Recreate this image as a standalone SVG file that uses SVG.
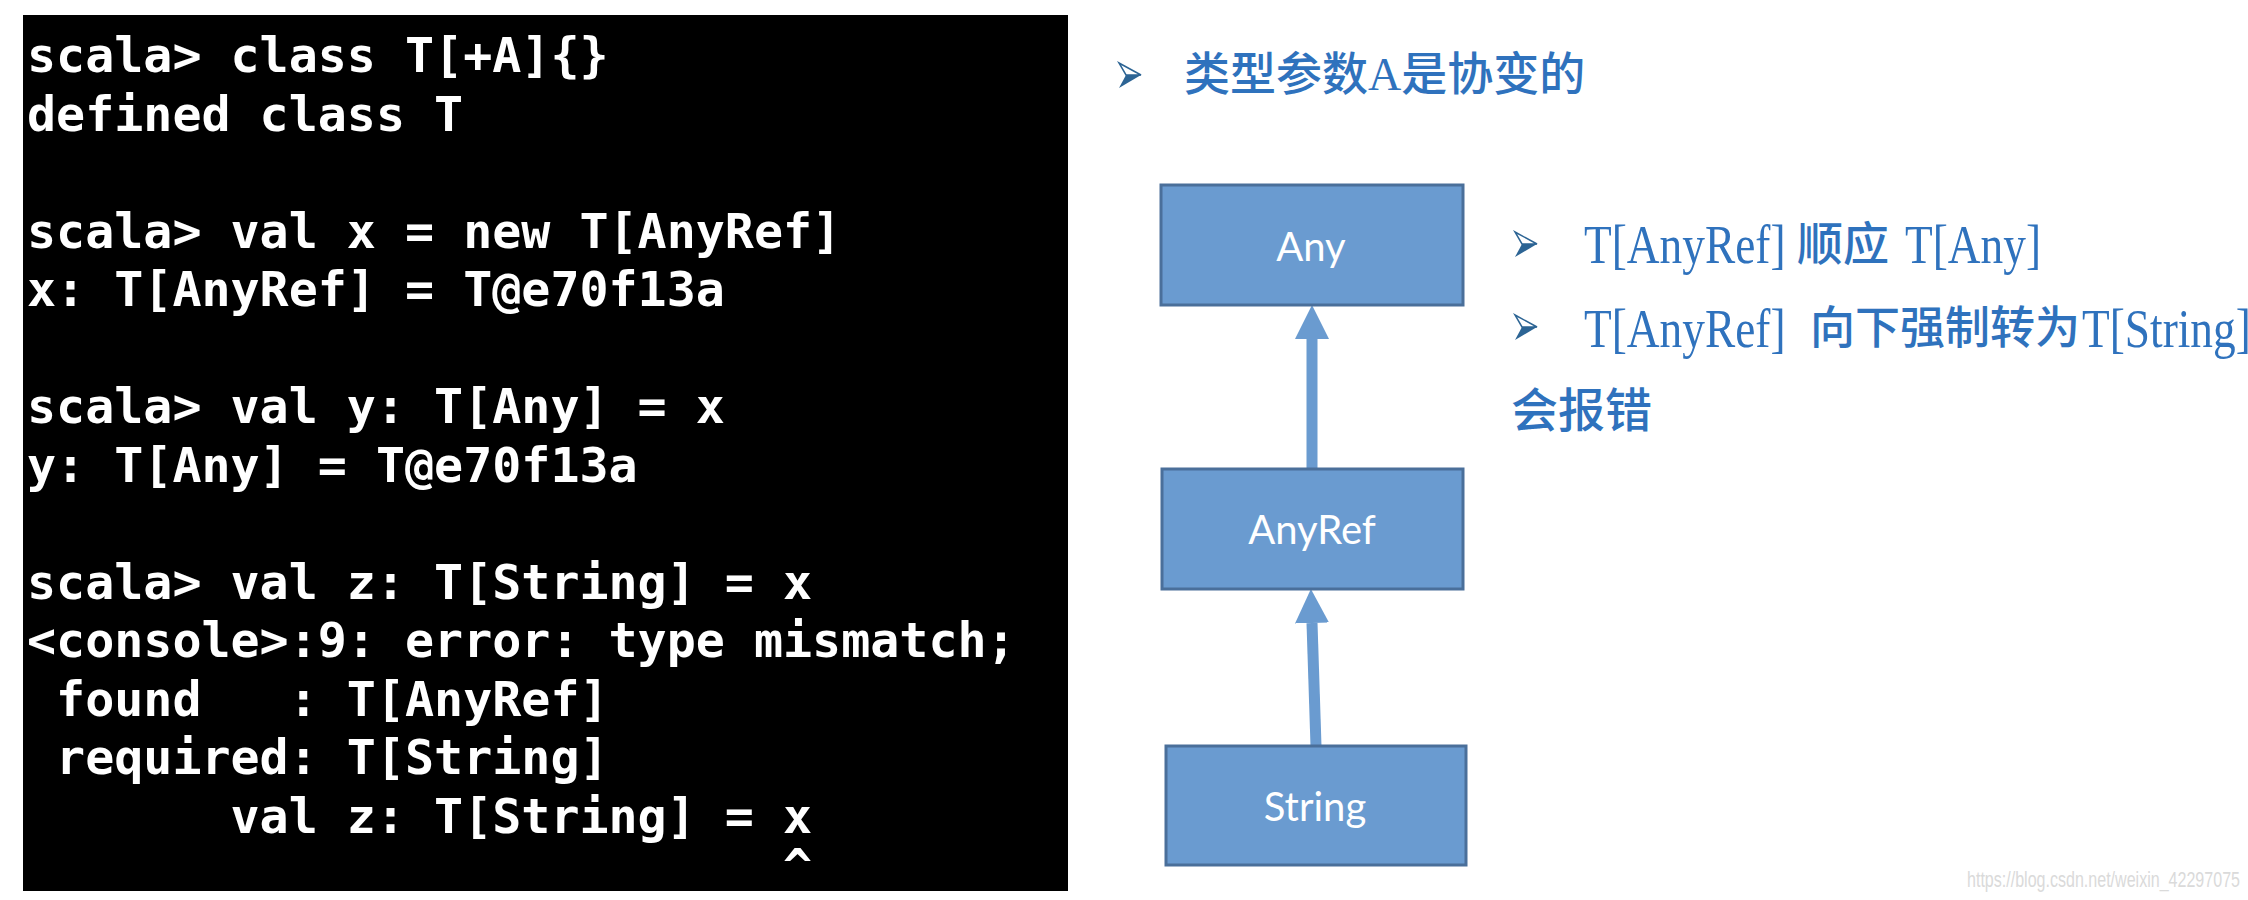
<svg xmlns="http://www.w3.org/2000/svg" xmlns:xlink="http://www.w3.org/1999/xlink" width="2248" height="900" viewBox="0 0 2248 900">
<style>
.term{font-family:"DejaVu Sans Mono","Liberation Mono",monospace;font-weight:bold;font-size:48.3px;fill:#ffffff;white-space:pre}
.cjk{font-family:"Liberation Serif","Noto Sans CJK SC",sans-serif;fill:#2F72BD;font-weight:500}
.lat{font-family:"Liberation Serif",serif;fill:#2F72BD;font-size:54px}
.box{fill:#6A9BD0;stroke:#4A6F9A;stroke-width:3}
.lbl{font-family:Lato,"Open Sans",sans-serif;font-size:40px;fill:#ffffff;text-anchor:middle}
.conn{stroke:#6A9BD0;stroke-width:11;fill:none}
.wm{font-family:"Liberation Sans",sans-serif;font-size:22px;fill:#DADADA}
</style>
<defs>
<marker id="head" markerUnits="userSpaceOnUse" markerWidth="40" markerHeight="40" viewBox="0 -20 40 40" refX="0" refY="0" orient="auto">
<path d="M0,-17 L34,0 L0,17 Z" fill="#6A9BD0"/>
</marker>
<g id="bullet">
<path d="M0,0 L22,12 L7,12 Z" fill="#ffffff" stroke="#2C6494" stroke-width="1.5"/>
<path d="M7,12 L22,12 L0,25 Z" fill="#2C6494"/>
</g>
</defs>
<rect width="2248" height="900" fill="#ffffff"/>
<g id="terminal">
<rect x="23" y="15" width="1045" height="876" fill="#000000"/>
<text class="term" xml:space="preserve" x="27" y="72">scala&gt; class T[+A]{}</text>
<text class="term" xml:space="preserve" x="27" y="130.5">defined class T</text>
<text class="term" xml:space="preserve" x="27" y="247.5">scala&gt; val x = new T[AnyRef]</text>
<text class="term" xml:space="preserve" x="27" y="306">x: T[AnyRef] = T@e70f13a</text>
<text class="term" xml:space="preserve" x="27" y="423">scala&gt; val y: T[Any] = x</text>
<text class="term" xml:space="preserve" x="27" y="481.5">y: T[Any] = T@e70f13a</text>
<text class="term" xml:space="preserve" x="27" y="598.5">scala&gt; val z: T[String] = x</text>
<text class="term" xml:space="preserve" x="27" y="657">&lt;console&gt;:9: error: type mismatch;</text>
<text class="term" xml:space="preserve" x="27" y="715.5"> found   : T[AnyRef]</text>
<text class="term" xml:space="preserve" x="27" y="774"> required: T[String]</text>
<text class="term" xml:space="preserve" x="27" y="832.5">       val z: T[String] = x</text>
<text class="term" xml:space="preserve" x="783" y="883">^</text>
</g>
<g id="heading">
<use xlink:href="#bullet" x="1119" y="63"/>
<text class="cjk" x="1184" y="90" font-size="46">类型参数A是协变的</text>
</g>
<g id="connectors">
<line class="conn" x1="1312" y1="469" x2="1312" y2="339" marker-end="url(#head)"/>
<line class="conn" x1="1316" y1="746" x2="1312" y2="623" marker-end="url(#head)"/>
</g>
<g id="node-any">
<rect class="box" x="1161" y="185" width="302" height="120"/>
<text class="lbl" x="1311" y="261">Any</text>
</g>
<g id="node-anyref">
<rect class="box" x="1162" y="469" width="301" height="120"/>
<text class="lbl" x="1312" y="544">AnyRef</text>
</g>
<g id="node-string">
<rect class="box" x="1166" y="746" width="300" height="119"/>
<text class="lbl" x="1315" y="821">String</text>
</g>
<g id="notes">
<use xlink:href="#bullet" x="1515" y="232"/>
<text class="lat" transform="translate(1584,263) scale(0.84,1)">T[AnyRef]</text>
<text class="cjk" x="1797" y="260" font-size="46">顺应</text>
<text class="lat" transform="translate(1905,263) scale(0.84,1)">T[Any]</text>
<use xlink:href="#bullet" x="1515" y="315"/>
<text class="lat" transform="translate(1584,347) scale(0.84,1)">T[AnyRef]</text>
<text class="cjk" x="1810" y="344" font-size="45">向下强制转为</text>
<text class="lat" transform="translate(2082,347) scale(0.84,1)">T[String]</text>
<text class="cjk" x="1511" y="427" font-size="47">会报错</text>
</g>
<text class="wm" x="1967" y="887" textLength="273" lengthAdjust="spacingAndGlyphs">https://blog.csdn.net/weixin_42297075</text>
</svg>
